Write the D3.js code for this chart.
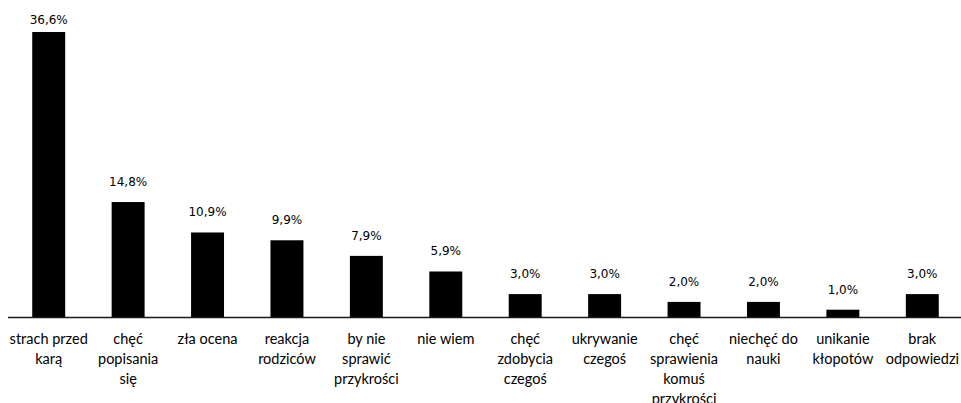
<!DOCTYPE html>
<html>
<head>
<meta charset="utf-8">
<script src="https://cdn.jsdelivr.net/npm/d3@7"></script>
<style>
  html, body { margin: 0; padding: 0; background: #fff; }
  svg { display: block; }
</style>
</head>
<body>
<svg id="chart" width="961" height="403"></svg>
<script>
const categories = [
  "strach przed karą",
  "chęć popisania się",
  "zła ocena",
  "reakcja rodziców",
  "by nie sprawić przykrości",
  "nie wiem",
  "chęć zdobycia czegoś",
  "ukrywanie czegoś",
  "chęć sprawienia komuś przykrości",
  "niechęć do nauki",
  "unikanie kłopotów",
  "brak odpowiedzi"
];
const values = [36.6, 14.8, 10.9, 9.9, 7.9, 5.9, 3.0, 3.0, 2.0, 2.0, 1.0, 3.0];
const valueLabels = ["36,6%", "14,8%", "10,9%", "9,9%", "7,9%", "5,9%", "3,0%", "3,0%", "2,0%", "2,0%", "1,0%", "3,0%"];

const data = categories.map((c, i) => ({ cat: c, v: values[i], lbl: valueLabels[i] }));

const svg = d3.select("#chart");
const baseY = 317.5;

const x = d3.scaleBand()
  .domain(categories)
  .range([9, 962])
  .paddingInner(0.585)
  .paddingOuter(0.2925);

const y = d3.scaleLinear()
  .domain([0, 40])
  .range([baseY, baseY - 40 * 7.8]);

// bars
svg.append("g").selectAll("rect")
  .data(data)
  .enter().append("rect")
  .attr("x", d => x(d.cat))
  .attr("width", x.bandwidth())
  .attr("y", d => y(d.v))
  .attr("height", d => baseY - y(d.v))
  .attr("fill", "#000");

// axis
const axis = d3.axisBottom(x).tickSize(0).tickFormat("");
const gAxis = svg.append("g").attr("transform", `translate(0,${baseY})`).call(axis);
gAxis.select(".domain").remove();
gAxis.append("line")
  .attr("x1", 8).attr("x2", 961)
  .attr("y1", 0).attr("y2", 0)
  .attr("stroke", "#1a1a1a")
  .attr("stroke-width", 1.5);

// value labels
svg.append("g").selectAll("text")
  .data(data)
  .enter().append("text")
  .attr("x", d => x(d.cat) + x.bandwidth() / 2)
  .attr("y", d => Math.max(y(d.v) - 16, 23.5))
  .attr("text-anchor", "middle")
  .attr("font-family", "DejaVu Sans, Verdana, sans-serif")
  .attr("font-size", "12px")
  .attr("fill", "#000")
  .text(d => d.lbl);

// category labels with wrapping
const maxW = 80;
const catG = svg.append("g");
data.forEach(d => {
  const t = catG.append("text")
    .attr("x", x(d.cat) + x.bandwidth() / 2)
    .attr("y", 344)
    .attr("text-anchor", "middle")
    .attr("font-family", "Lato, 'Open Sans', sans-serif")
    .attr("font-size", "14.5px")
    .attr("fill", "#000");
  const words = d.cat.split(" ");
  let line = [];
  let tspan = t.append("tspan").attr("x", x(d.cat) + x.bandwidth() / 2).attr("dy", 0);
  words.forEach(w => {
    line.push(w);
    tspan.text(line.join(" "));
    if (tspan.node().getComputedTextLength() > maxW && line.length > 1) {
      line.pop();
      tspan.text(line.join(" "));
      line = [w];
      tspan = t.append("tspan").attr("x", x(d.cat) + x.bandwidth() / 2).attr("dy", 20).text(w);
    }
  });
});
</script>
</body>
</html>
